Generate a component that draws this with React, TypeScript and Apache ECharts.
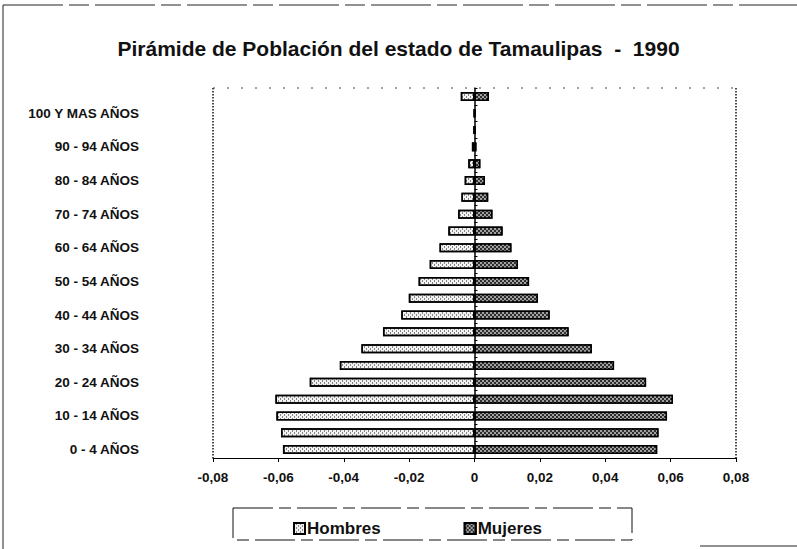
import React, { useEffect, useRef } from "react";
import * as echarts from "echarts";

const categories = [
  "0 - 4 AÑOS", "5 - 9 AÑOS", "10 - 14 AÑOS", "15 - 19 AÑOS", "20 - 24 AÑOS",
  "25 - 29 AÑOS", "30 - 34 AÑOS", "35 - 39 AÑOS", "40 - 44 AÑOS", "45 - 49 AÑOS",
  "50 - 54 AÑOS", "55 - 59 AÑOS", "60 - 64 AÑOS", "65 - 69 AÑOS", "70 - 74 AÑOS",
  "75 - 79 AÑOS", "80 - 84 AÑOS", "85 - 89 AÑOS", "90 - 94 AÑOS", "95 - 99 AÑOS",
  "100 Y MAS AÑOS", "NO ESPECIFICADO",
];

const hombres = [
  -0.0586, -0.0592, -0.0606, -0.0609, -0.0504, -0.0412, -0.0346, -0.028, -0.0224, -0.0201,
  -0.0171, -0.0137, -0.0107, -0.008, -0.005, -0.004, -0.003, -0.0019, -0.0008, -0.0003,
  -0.0002, -0.0042,
];

const mujeres = [
  0.0559, 0.0563, 0.0589, 0.0607, 0.0525, 0.0427, 0.0359, 0.0288, 0.023, 0.0194,
  0.0167, 0.0133, 0.0113, 0.0086, 0.0055, 0.0042, 0.0032, 0.0018, 0.0006, 0.0004,
  0.0003, 0.0044,
];

const xMin = -0.08;
const xMax = 0.08;
const xStep = 0.02;

const titleText = "Pirámide de Población del estado de Tamaulipas  -  1990";
const FONT = '"Liberation Sans", Arial, sans-serif';

export default function App() {
  const ref = useRef<HTMLDivElement>(null);

  useEffect(() => {
    document.body.style.margin = "0";
    const chart = echarts.init(ref.current!, null, { renderer: "svg" });

    const gL = 213, gR = 736, gT = 88, gB = 458;

    const option: any = {
      animation: false,
      backgroundColor: "#ffffff",
      title: {
        text: titleText,
        left: "center",
        top: 33,
        textStyle: { fontFamily: FONT, fontSize: 21, fontWeight: "bold", color: "#111" },
      },
      grid: { left: gL, right: 797 - gR, top: gT, bottom: 549 - gB },
      legend: {
        left: 288,
        top: 515,
        itemWidth: 11,
        itemHeight: 11,
        itemGap: 83,
        icon: "rect",
        data: ["Hombres", "Mujeres"],
        textStyle: { fontFamily: FONT, fontSize: 17, fontWeight: "bold", color: "#111", padding: [0, 0, 0, -3] },
      },
      xAxis: {
        type: "value",
        min: xMin,
        max: xMax,
        interval: xStep,
        axisLine: { show: true, onZero: false, lineStyle: { color: "#000", width: 1.2 } },
        axisTick: { show: true, length: 4, lineStyle: { color: "#000" } },
        splitLine: { show: false },
        axisLabel: {
          margin: 12,
          fontFamily: FONT,
          fontSize: 13.5,
          fontWeight: "bold",
          color: "#111",
          formatter: (v: number) => (Math.abs(v) < 1e-9 ? "0" : v.toFixed(2).replace(".", ",")),
        },
      },
      yAxis: [
        {
          type: "category",
          data: categories,
          position: "left",
          axisLine: { show: false, onZero: false },
          axisTick: { show: false },
          axisLabel: {
            interval: 1,
            margin: 74,
            fontFamily: FONT,
            fontSize: 13.5,
            fontWeight: "bold",
            color: "#111",
          },
        },
        {
          type: "category",
          data: categories,
          axisLine: { show: true, onZero: true, lineStyle: { color: "#000", width: 1.5 } },
          axisTick: { show: true, length: 3, lineStyle: { color: "#000" } },
          axisLabel: { show: false },
        },
      ],
      series: [
        {
          name: "Hombres",
          type: "bar",
          stack: "pop",
          yAxisIndex: 0,
          barWidth: 9,
          data: hombres,
          itemStyle: {
            color: "#f2f2f2",
            borderColor: "#000",
            borderWidth: 1.5,
            decal: {
              symbol: "rect",
              symbolSize: 1,
              color: "rgba(0,0,0,0.45)",
              dashArrayX: [[1, 3], [0, 2, 1, 1]],
              dashArrayY: [2, 0],
            },
          },
        },
        {
          name: "Mujeres",
          type: "bar",
          stack: "pop",
          yAxisIndex: 0,
          barWidth: 9,
          data: mujeres,
          itemStyle: {
            color: "#2e2e2e",
            borderColor: "#000",
            borderWidth: 1.5,
            decal: {
              symbol: "rect",
              symbolSize: 1,
              color: "rgba(255,255,255,0.55)",
              dashArrayX: [[2, 2], [0, 2, 2, 0]],
              dashArrayY: [2, 0],
            },
          },
        },
      ],
      graphic: [
        { type: "line", shape: { x1: 3, y1: 5, x2: 3, y2: 549 }, style: { stroke: "#222", lineWidth: 1 } },
        { type: "line", shape: { x1: 3, y1: 5, x2: 797, y2: 5 }, style: { stroke: "#222", lineWidth: 1, lineDash: [60, 6, 20, 6] } },
        { type: "line", shape: { x1: 700, y1: 546, x2: 797, y2: 546 }, style: { stroke: "#222", lineWidth: 1 } },
        { type: "line", shape: { x1: gL, y1: gT, x2: gL, y2: gB }, style: { stroke: "#111", lineWidth: 1.5, lineDash: [1.5, 1.5] } },
        { type: "line", shape: { x1: gR, y1: gT, x2: gR, y2: gB }, style: { stroke: "#111", lineWidth: 1.5, lineDash: [1.5, 1.5] } },
        { type: "line", shape: { x1: gL, y1: gT, x2: gR, y2: gT }, style: { stroke: "#444", lineWidth: 1, lineDash: [2, 12] } },
        {
          type: "rect",
          shape: { x: 233, y: 508, width: 399, height: 32 },
          style: { fill: "none", stroke: "#111", lineWidth: 1, lineDash: [40, 6, 12, 6] },
        },
      ],
    };

    chart.setOption(option);
    return () => chart.dispose();
  }, []);

  return <div ref={ref} style={{ width: 797, height: 549 }} />;
}
